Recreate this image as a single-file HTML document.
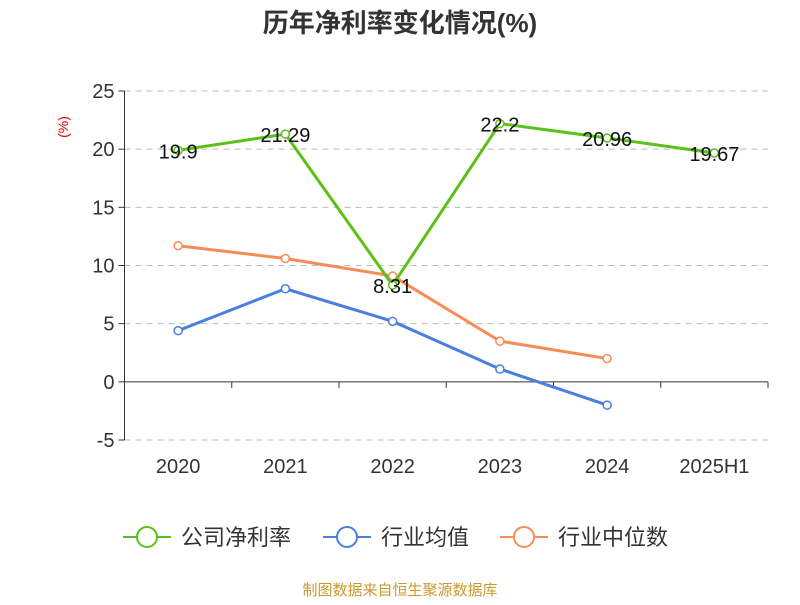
<!DOCTYPE html>
<html><head><meta charset="utf-8">
<style>
body{margin:0;background:#fff;}
svg text{font-family:"Liberation Sans","Noto Sans CJK SC",sans-serif;}
</style></head>
<body>
<svg id="chart" width="800" height="600" xmlns="http://www.w3.org/2000/svg">
<text x="400" y="32" text-anchor="middle" font-size="26" font-weight="bold" fill="#333">历年净利率变化情况(%)</text>
<text x="68" y="127" font-size="14" fill="#e00000" text-anchor="middle" transform="rotate(-90 68 127)">(%)</text>
<g id="grid"></g><g id="axes"></g><g id="series"></g>
<g>
 <g><line x1="123" y1="537" x2="171" y2="537" stroke="#5bc117" stroke-width="2"/><circle cx="147" cy="537" r="10" fill="#fff" stroke="#5bc117" stroke-width="2"/><text x="181" y="545" font-size="22" fill="#333">公司净利率</text></g>
 <g><line x1="323" y1="537" x2="371" y2="537" stroke="#4a7fe0" stroke-width="2"/><circle cx="347" cy="537" r="10" fill="#fff" stroke="#4a7fe0" stroke-width="2"/><text x="381" y="545" font-size="22" fill="#333">行业均值</text></g>
 <g><line x1="500" y1="537" x2="548" y2="537" stroke="#f98b56" stroke-width="2"/><circle cx="524" cy="537" r="10" fill="#fff" stroke="#f98b56" stroke-width="2"/><text x="558" y="545" font-size="22" fill="#333">行业中位数</text></g>
</g>
<text x="400" y="595" text-anchor="middle" font-size="15" fill="#c89a30">制图数据来自恒生聚源数据库</text>
</svg>
<script>
const categories=["2020","2021","2022","2023","2024","2025H1"];
const companyValues=[19.9,21.29,8.31,22.2,20.96,19.67];
const avgValues=[4.4,8.0,5.2,1.1,-2.0];
const medianValues=[11.7,10.6,9.1,3.5,2.0];
const yTicks=[-5,0,5,10,15,20,25];
const NS="http://www.w3.org/2000/svg";
const plotLeft=124.5,plotRight=768,plotTop=91,plotBottom=440,yMin=-5,yMax=25;
const band=(plotRight-plotLeft)/categories.length;
function xPos(i){return plotLeft+band*(i+0.5);}
function yPos(v){return plotBottom-(v-yMin)/(yMax-yMin)*(plotBottom-plotTop);}
function mk(tag,attrs,parent){const e=document.createElementNS(NS,tag);for(const k in attrs)e.setAttribute(k,attrs[k]);parent.appendChild(e);return e;}
const gridG=document.getElementById('grid'),axesG=document.getElementById('axes'),seriesG=document.getElementById('series');
yTicks.forEach(t=>{
 if(t!==0){const l=mk('line',{x1:plotLeft,x2:plotRight,y1:yPos(t),y2:yPos(t),stroke:'#bbb','stroke-dasharray':'6,5'},gridG);
 
 }
 const tk=mk('line',{x1:plotLeft-6,x2:plotLeft,y1:yPos(t),y2:yPos(t),stroke:'#333'},axesG);
 
 
 const tx=mk('text',{x:plotLeft-10,y:yPos(t)+7,'text-anchor':'end','font-size':20,fill:'#333'},axesG);
 tx.textContent=t;
 
 
});
const ya=mk('line',{x1:plotLeft,x2:plotLeft,y1:plotTop,y2:plotBottom,stroke:'#333'},axesG);


const xa=mk('line',{x1:plotLeft,x2:plotRight,y1:yPos(0),y2:yPos(0),stroke:'#333'},axesG);


categories.forEach((c,i)=>{
 const tk=mk('line',{x1:plotLeft+band*(i+1),x2:plotLeft+band*(i+1),y1:yPos(0),y2:yPos(0)+6,stroke:'#333'},axesG);
 
 
 const tx=mk('text',{x:xPos(i),y:473,'text-anchor':'middle','font-size':20,fill:'#333'},axesG);
 tx.textContent=c;
 
 
});
function drawSeries(vals,color,name,labels){
 const g=mk('g',{},seriesG);
 
 
 const p=mk('polyline',{points:vals.map((v,i)=>xPos(i)+','+yPos(v)).join(' '),fill:'none',stroke:color,'stroke-width':3},g);
 
 
 vals.forEach((v,i)=>{
  const c=mk('circle',{cx:xPos(i),cy:yPos(v),r:4,fill:'#fff',stroke:color,'stroke-width':1.5},g);
  
  
  if(labels){const t=mk('text',{x:xPos(i),y:yPos(v)+8,'text-anchor':'middle','font-size':20,fill:'#111'},g);
  t.textContent=v;
  
  }
 });
}
drawSeries(avgValues,'#4a7fe0','industry-avg-series',false);
drawSeries(medianValues,'#f98b56','industry-median-series',false);
drawSeries(companyValues,'#5bc117','company-series',true);
</script>
</body></html>
